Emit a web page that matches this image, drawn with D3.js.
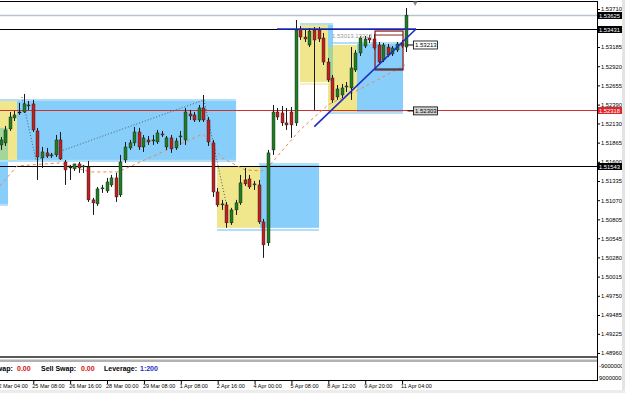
<!DOCTYPE html>
<html>
<head>
<meta charset="utf-8">
<script src="https://cdn.jsdelivr.net/npm/d3@7"></script>
<style>
  body { margin: 0; background: #fff; }
  svg { display: block; font-family: "Liberation Sans", Arial, sans-serif; }
</style>
</head>
<body>
<svg id="chart" width="625" height="393"></svg>
<script>
// H4 candles (bar 0 = left edge)
var open = [1.51833,1.51861,1.52054,1.52206,1.52275,1.52288,1.52385,1.52399,1.52026,1.51654,
  1.51723,1.51681,1.51695,1.51902,1.51598,1.51516,1.51502,1.51571,1.51529,1.51529,
  1.51074,1.51019,1.51226,1.51198,1.51281,1.51378,1.51143,1.51626,1.51792,1.51861,
  1.52012,1.51805,1.51902,1.51888,1.51874,1.51985,1.51805,1.51930,1.51792,1.51943,
  1.51902,1.52261,1.52247,1.52178,1.52344,1.52178,1.51861,1.51184,1.51005,1.51005,
  1.50757,1.50936,1.51033,1.51350,1.51364,1.51281,1.51281,1.50770,1.50481,1.51764,
  1.52288,1.52275,1.52137,1.52288,1.52137,1.53434,1.53323,1.53213,1.53420,1.53420,
  1.53310,1.52978,1.52758,1.52495,1.52523,1.52633,1.52620,1.52868,1.53103,1.53199,
  1.53310,1.53296,1.53213,1.53006,1.53185,1.53089,1.53144,1.53241,1.53185];
var high = [1.51943,1.52095,1.52288,1.52302,1.52413,1.52537,1.52440,1.52454,1.52068,1.51805,
  1.51792,1.51723,1.51971,1.52012,1.51626,1.51557,1.51571,1.51598,1.51557,1.51612,
  1.51102,1.51253,1.51281,1.51378,1.51419,1.51447,1.51695,1.51874,1.51902,1.52081,
  1.52068,1.51971,1.51957,1.51971,1.52040,1.52026,1.51957,1.51971,1.51930,1.52026,
  1.52344,1.52316,1.52288,1.52385,1.52523,1.52219,1.51902,1.51240,1.51074,1.51046,
  1.50964,1.51074,1.51419,1.51516,1.51419,1.51336,1.51350,1.50812,1.51764,1.52385,
  1.52344,1.52371,1.52344,1.52357,1.53558,1.53475,1.53420,1.53448,1.53461,1.53461,
  1.53379,1.53034,1.52799,1.52661,1.52675,1.52702,1.53185,1.53144,1.53337,1.53337,
  1.53351,1.53365,1.53254,1.53241,1.53227,1.53199,1.53254,1.53282,1.53724];
var low = [1.51764,1.51819,1.52026,1.52164,1.52247,1.52275,1.52316,1.52012,1.51350,1.51516,
  1.51654,1.51654,1.51667,1.51626,1.51281,1.51350,1.51474,1.51447,1.51447,1.51046,
  1.50867,1.50991,1.51171,1.51171,1.51253,1.51046,1.51115,1.51585,1.51764,1.51819,
  1.51764,1.51736,1.51833,1.51833,1.51847,1.51943,1.51764,1.51723,1.51764,1.51833,
  1.51833,1.52178,1.52150,1.52150,1.52150,1.51819,1.51115,1.50977,1.50936,1.50688,
  1.50729,1.50867,1.51005,1.51267,1.51226,1.51212,1.50743,1.50274,1.50439,1.51695,
  1.52178,1.52095,1.52040,1.51930,1.52095,1.53282,1.53254,1.53185,1.52316,1.53254,
  1.52937,1.52702,1.52413,1.52454,1.52482,1.52564,1.52454,1.52840,1.53061,1.53172,
  1.53241,1.53144,1.52965,1.52978,1.53047,1.53061,1.53116,1.53172,1.53116];
var close = [1.51902,1.52040,1.52219,1.52247,1.52288,1.52399,1.52371,1.52040,1.51667,1.51736,
  1.51681,1.51695,1.51902,1.51640,1.51488,1.51529,1.51571,1.51516,1.51543,1.51074,
  1.51033,1.51226,1.51240,1.51322,1.51378,1.51115,1.51598,1.51805,1.51861,1.52012,
  1.51805,1.51930,1.51874,1.51902,1.51999,1.51971,1.51930,1.51778,1.51888,1.51957,
  1.52288,1.52233,1.52178,1.52344,1.52178,1.51874,1.51184,1.51005,1.51019,1.50757,
  1.50936,1.51033,1.51309,1.51295,1.51253,1.51295,1.50770,1.50453,1.51723,1.52288,
  1.52219,1.52137,1.52109,1.52109,1.53420,1.53323,1.53296,1.53406,1.53282,1.53296,
  1.52978,1.52730,1.52454,1.52606,1.52620,1.52647,1.52896,1.53103,1.53310,1.53296,
  1.53282,1.53172,1.52978,1.53213,1.53075,1.53172,1.53227,1.53199,1.53625];

var timeTicks = [-1, 7, 15, 23, 31, 39, 47, 55, 63, 71, 79, 87];
var timeLabels = ["22 Mar 04:00", "25 Mar 08:00", "26 Mar 16:00", "28 Mar 00:00", "29 Mar 08:00",
  "1 Apr 08:00", "2 Apr 16:00", "4 Apr 00:00", "5 Apr 08:00", "8 Apr 12:00", "9 Apr 20:00", "11 Apr 04:00"];
var priceTicks = ["1.53710", "1.53185", "1.52920", "1.52655", "1.52390", "1.52130", "1.51865",
  "1.51600", "1.51335", "1.51070", "1.50805", "1.50545", "1.50280", "1.50015", "1.49750",
  "1.49485", "1.49225", "1.48960"];

// horizontal lines with their scale labels
var hLinePrices = [1.53625, 1.53431, 1.52318, 1.51543];
var hLineKinds = ["ask", "black", "red", "black"];

// zones: [fromBar, toBar, topPrice, bottomPrice, kind]
var zones = [
  [-2, 1.63, 1.52068, 1.51005, "blue"],
  [-2, 3.58, 1.52454, 1.51626, "yellow"],
  [-2, 1.63, 1.52068, 1.51626, "green"],
  [3.58, 51.1, 1.52454, 1.51626, "blue"],
  [46.96, 56.3, 1.51543, 1.50688, "yellow"],
  [56.3, 69.1, 1.51557, 1.50688, "blue"],
  [64.97, 71.04, 1.53489, 1.52702, "yellow"],
  [71.04, 72.12, 1.53489, 1.53185, "blue"],
  [71.04, 72.12, 1.53185, 1.52702, "green"],
  [72.12, 77.33, 1.53213, 1.52288, "yellow"],
  [71.04, 72.12, 1.52702, 1.52288, "yellow"],
  [77.33, 87.31, 1.53241, 1.52288, "blue"]
];
// zone edges: [fromBar, toBar, price, kind]
var zoneEdges = [
  [-2, 51.1, 1.52454, "blue"], [-2, 51.1, 1.51612, "blue"], [-2, 1.63, 1.51005, "blue"],
  [56.0, 69.1, 1.51571, "blue"], [46.96, 69.1, 1.50660, "blue"],
  [64.97, 72.12, 1.53503, "blue"], [64.97, 71.04, 1.52675, "yellow"],
  [72.12, 87.31, 1.53241, "blue"], [71.04, 87.31, 1.52275, "blue"]
];

// zigzag paths [bar, price]
var zigGray = [[4.66, 1.52495], [7.7, 1.51626], [44.14, 1.52454], [49.35, 1.50908]];
var zigOrange = [[-0.1, 1.51267], [3.58, 1.51543], [12.9, 1.51585], [19.4, 1.51460], [25.5, 1.51460],
  [30.3, 1.51598], [43.9, 1.51985], [48.05, 1.51654], [53.04, 1.51488], [56.7, 1.51474],
  [58.46, 1.51557], [64.97, 1.52040], [71.04, 1.52385], [79.72, 1.52661], [87.74, 1.52937]];

// blue trend lines [bar1, price1, bar2, price2]
var trendLines = [[59.98, 1.53434, 90.13, 1.53434], [68.07, 1.52086, 90.13, 1.53434]];
// dark red box [fromBar, toBar, top, bottom]
var redBox = [81.24, 87.31, 1.53406, 1.52868];
// price labels in chart
var priceLabels = [[88.5, 1.53213, "1.53213", "white"], [88.5, 1.52303, "1.52303", "gray"]];

var svg = d3.select("#chart");
var plotRight = 597, plotTop = 1, plotBottom = 356;

var x = d3.scaleLinear().domain([0, 88]).range([0.5, 406.2]);
var y = d3.scaleLinear().domain([1.48960, 1.53710]).range([353, 9]);

var zoneFill = {blue: "#87cefa", yellow: "#f0e68c", green: "#a3d69b"};
var edgeColor = {blue: "#b3def7", yellow: "#f6efbf"};

svg.append("defs").append("clipPath").attr("id", "clip")
  .append("rect").attr("x", 0).attr("y", plotTop).attr("width", plotRight).attr("height", plotBottom - plotTop);

var plot = svg.append("g").attr("clip-path", "url(#clip)");

plot.selectAll(".zone").data(zones).enter().append("rect")
  .attr("x", function(d) { return x(d[0]); })
  .attr("width", function(d) { return x(d[1]) - x(d[0]); })
  .attr("y", function(d) { return y(d[2]); })
  .attr("height", function(d) { return y(d[3]) - y(d[2]); })
  .attr("fill", function(d) { return zoneFill[d[4]]; });

plot.selectAll(".edge").data(zoneEdges).enter().append("line")
  .attr("x1", function(d) { return x(d[0]); })
  .attr("x2", function(d) { return x(d[1]); })
  .attr("y1", function(d) { return y(d[2]); })
  .attr("y2", function(d) { return y(d[2]); })
  .attr("stroke", function(d) { return edgeColor[d[3]]; })
  .attr("stroke-width", 2);

// full-width horizontal lines
var lineColor = {ask: "#b9c3cf", black: "#000", red: "#d03030"};
plot.selectAll(".hline").data(hLinePrices).enter().append("line")
  .attr("x1", 0).attr("x2", plotRight)
  .attr("y1", function(d) { return Math.round(y(d)) + 0.5; })
  .attr("y2", function(d) { return Math.round(y(d)) + 0.5; })
  .attr("stroke", function(d, i) { return lineColor[hLineKinds[i]]; })
  .attr("stroke-width", function(d, i) { return hLineKinds[i] == "ask" ? 1.5 : 1; });

var zz = d3.line().x(function(d) { return x(d[0]); }).y(function(d) { return y(d[1]); });
plot.append("path").datum(zigGray)
  .attr("fill", "none").attr("stroke", "#4f5a6a").attr("stroke-width", 1)
  .attr("stroke-dasharray", "1,2").attr("d", zz);
plot.append("path").datum(zigOrange)
  .attr("fill", "none").attr("stroke", "#e8875a").attr("stroke-width", 1)
  .attr("stroke-dasharray", "3,3").attr("d", zz);

// candles
var bars = d3.range(open.length).map(function(i) {
  return {i: i, o: open[i], h: high[i], l: low[i], c: close[i]};
});
var candle = plot.selectAll(".candle").data(bars).enter().append("g");
candle.append("line")
  .attr("x1", function(d) { return Math.round(x(d.i)) + 0.5; })
  .attr("x2", function(d) { return Math.round(x(d.i)) + 0.5; })
  .attr("y1", function(d) { return y(d.h); })
  .attr("y2", function(d) { return y(d.l); })
  .attr("stroke", "#1a1a1a").attr("stroke-width", 1);
candle.append("rect")
  .attr("x", function(d) { return Math.round(x(d.i)) - 1; })
  .attr("width", 3)
  .attr("y", function(d) { return y(Math.max(d.o, d.c)); })
  .attr("height", function(d) { return Math.max(1, Math.abs(y(d.o) - y(d.c))); })
  .attr("fill", function(d) {
    if (Math.abs(y(d.o) - y(d.c)) < 1) return "#1a1a1a";
    return d.c >= d.o ? "#1f7d22" : "#c0201e";
  })
  .attr("stroke", "#1a1a1a").attr("stroke-width", 0.4);

// drawn objects
plot.append("rect")
  .attr("x", x(redBox[0])).attr("width", x(redBox[1]) - x(redBox[0]))
  .attr("y", y(redBox[2])).attr("height", y(redBox[3]) - y(redBox[2]))
  .attr("fill", "none").attr("stroke", "#8a1f24").attr("stroke-width", 1.3);
plot.append("line")
  .attr("x1", x(redBox[0])).attr("x2", x(redBox[1]))
  .attr("y1", y(redBox[2]) + 4).attr("y2", y(redBox[2]) + 4)
  .attr("stroke", "#8a1f24").attr("stroke-width", 1);
plot.append("line")
  .attr("x1", x(redBox[0])).attr("x2", x(redBox[1]))
  .attr("y1", y(redBox[3]) - 1).attr("y2", y(redBox[3]) - 1)
  .attr("stroke", "#222").attr("stroke-width", 1);

plot.selectAll(".trend").data(trendLines).enter().append("line")
  .attr("x1", function(d) { return x(d[0]); })
  .attr("y1", function(d) { return y(d[1]); })
  .attr("x2", function(d) { return x(d[2]); })
  .attr("y2", function(d) { return y(d[3]); })
  .attr("stroke", "#1c2cc8").attr("stroke-width", 1.6);

plot.append("text")
  .attr("x", x(71.9)).attr("y", y(1.53310))
  .attr("font-size", 6).attr("fill", "#9a9a9a")
  .text("1.53013.13218");

var pl = plot.selectAll(".plabel").data(priceLabels).enter().append("g");
pl.append("line")
  .attr("x1", function(d) { return x(d[0]) - 1; })
  .attr("x2", function(d) { return x(d[0]) + 5; })
  .attr("y1", function(d) { return y(d[1]); })
  .attr("y2", function(d) { return y(d[1]); })
  .attr("stroke", "#000");
pl.append("rect")
  .attr("x", function(d) { return x(d[0]) + 5; })
  .attr("y", function(d) { return y(d[1]) - 4; })
  .attr("width", 24).attr("height", 8)
  .attr("fill", function(d) { return d[3] == "gray" ? "#d4d4d4" : "#fff"; })
  .attr("stroke", "#000").attr("stroke-width", 0.8);
pl.append("text")
  .attr("x", function(d) { return x(d[0]) + 6.5; })
  .attr("y", function(d) { return y(d[1]) + 2.2; })
  .attr("font-size", 6).attr("fill", "#000")
  .text(function(d) { return d[2]; });

// separator and sub window
svg.append("rect").attr("x", 0).attr("y", plotBottom).attr("width", plotRight).attr("height", 2).attr("fill", "#5a5a5a");
svg.append("rect").attr("x", 0).attr("y", 359.5).attr("width", plotRight).attr("height", 2.5).attr("fill", "#b2b2b2");
svg.append("line").attr("x1", 0).attr("x2", plotRight).attr("y1", 380.5).attr("y2", 380.5).attr("stroke", "#000");
svg.append("line").attr("x1", 0).attr("x2", plotRight).attr("y1", 1.5).attr("y2", 1.5).attr("stroke", "#000");
svg.append("line").attr("x1", plotRight + 0.5).attr("x2", plotRight + 0.5).attr("y1", 1).attr("y2", 381).attr("stroke", "#000");

[["Buy Swap:", -23, "#000"], ["0.00", 17, "#d01010"], ["Sell Swap:", 41, "#000"], ["0.00", 81, "#d01010"],
 ["Leverage:", 104, "#000"], ["1:200", 140, "#1c2cc8"]].forEach(function(t) {
  svg.append("text").attr("x", t[1]).attr("y", 370.5).attr("font-size", 7)
    .attr("font-weight", "bold").attr("fill", t[2]).text(t[0]);
});

// price scale
var yAxis = svg.append("g")
  .attr("transform", "translate(" + plotRight + ",0)")
  .call(d3.axisRight(y).tickValues(priceTicks.map(Number)).tickSize(3).tickPadding(1)
    .tickFormat(function(d, i) { return priceTicks[i]; }));
yAxis.select(".domain").remove();
yAxis.selectAll("text").attr("font-size", 5.8).attr("font-family", "Liberation Sans, Arial, sans-serif");

svg.append("text").attr("x", 599).attr("y", 368).attr("font-size", 5.8).text("-9000000");
svg.append("text").attr("x", 599).attr("y", 380).attr("font-size", 5.8).text("9000000");

var marks = svg.selectAll(".mark").data(hLinePrices).enter().append("g");
marks.append("rect")
  .attr("x", plotRight + 1).attr("width", 25)
  .attr("y", function(d) { return Math.round(y(d)) - 3; }).attr("height", 7)
  .attr("fill", function(d, i) { return hLineKinds[i] == "red" ? "#e0252a" : "#000"; });
marks.append("text")
  .attr("x", plotRight + 2).attr("y", function(d) { return Math.round(y(d)) + 2.5; })
  .attr("font-size", 5.8).attr("fill", "#fff")
  .text(function(d) { return d3.format(".5f")(d); });

// time scale
var xAxis = svg.append("g")
  .attr("transform", "translate(0,381)")
  .call(d3.axisBottom(x).tickValues(timeTicks).tickSize(3)
    .tickFormat(function(d, i) { return timeLabels[i]; }));
xAxis.select(".domain").remove();
xAxis.selectAll("line").attr("transform", "translate(0.5,0)");
xAxis.selectAll("text").attr("text-anchor", "start").attr("x", -1).attr("y", 3)
  .attr("font-size", 5.5).attr("font-family", "Liberation Sans, Arial, sans-serif");

// shift marker and frame bits
svg.append("path").attr("d", d3.symbol().type(d3.symbolTriangle).size(10)())
  .attr("transform", "translate(" + (x(88) + 9) + ",3) rotate(180)").attr("fill", "#7a8590");
svg.append("rect").attr("x", 622).attr("y", 0).attr("width", 3).attr("height", 393).attr("fill", "#e4e4e4");
svg.append("rect").attr("x", 0).attr("y", 390).attr("width", 625).attr("height", 3).attr("fill", "#ececec");
</script>
</body>
</html>
